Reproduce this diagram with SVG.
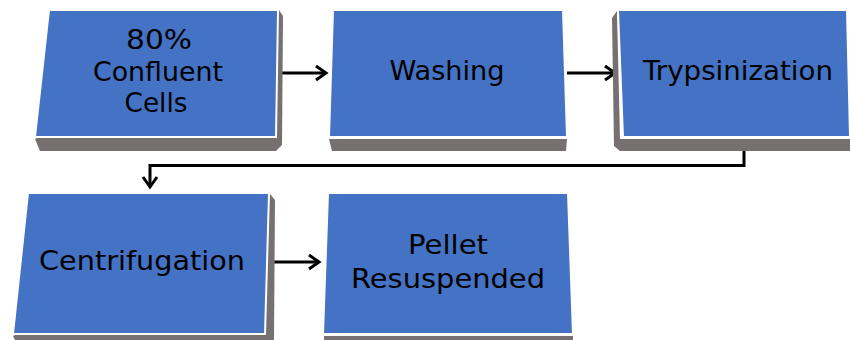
<svg xmlns="http://www.w3.org/2000/svg" width="850" height="340" viewBox="0 0 850 340">
<defs>
<style>
.face{fill:#4472C4;stroke:#ffffff;stroke-width:2;stroke-linejoin:miter}
.side{fill:#767170}
.lbl{font-family:"DejaVu Sans","Liberation Sans",sans-serif;font-size:27px;fill:#000;text-anchor:middle}
.conn{fill:none;stroke:#000;stroke-width:3}
</style>
<marker id="arr" markerUnits="userSpaceOnUse" markerWidth="16" markerHeight="18" refX="12" refY="9" orient="auto">
<path d="M2,2 L12,9 L2,16" fill="none" stroke="#000" stroke-width="3"/>
</marker>
</defs>
<rect width="850" height="340" fill="#fff"/>
<g id="connectors">
<line class="conn" x1="281" y1="73" x2="326" y2="73" marker-end="url(#arr)"/>
<line class="conn" x1="567" y1="73" x2="615" y2="73" marker-end="url(#arr)"/>
<polyline class="conn" points="744,140 744,165.5 150,165.5 150,187" marker-end="url(#arr)"/>
<line class="conn" x1="270" y1="262" x2="319" y2="262" marker-end="url(#arr)"/>
</g>
<g id="n1">
<polygon class="side" points="279,10 283,16 282,145 276,151 40,151 35,139"/>
<polygon class="face" points="49,10 278,10 276,137 35,137"/>
<text class="lbl" x="159" y="49" textLength="66" lengthAdjust="spacingAndGlyphs">80%</text>
<text class="lbl" x="158" y="81" textLength="130" lengthAdjust="spacingAndGlyphs">Confluent</text>
<text class="lbl" x="156" y="112" textLength="63" lengthAdjust="spacingAndGlyphs">Cells</text>
</g>
<g id="n2">
<polygon class="side" points="329,139 567,139 566,151 332,151"/>
<polygon class="face" points="333,10 563,10 567,137 329,137"/>
<text class="lbl" x="447" y="80" textLength="115" lengthAdjust="spacingAndGlyphs">Washing</text>
</g>
<g id="n3">
<polygon class="side" points="617,11 612,18 614,146 620,151 850,151 850,139 620,139"/>
<polygon class="face" points="618,10 847,10 850,137 623,137"/>
<text class="lbl" x="738" y="80" textLength="190" lengthAdjust="spacingAndGlyphs">Trypsinization</text>
</g>
<g id="n4">
<polygon class="side" points="270,194 275,200 274,340 15,340 13,336"/>
<polygon class="face" points="28,193 269,193 265,334 13,334"/>
<text class="lbl" x="142" y="270" textLength="206" lengthAdjust="spacingAndGlyphs">Centrifugation</text>
</g>
<g id="n5">
<polygon class="side" points="324,336 573,336 573,340 324,340"/>
<polygon class="face" points="328,193 568,193 573,334 323,334"/>
<text class="lbl" x="448" y="254" textLength="80" lengthAdjust="spacingAndGlyphs">Pellet</text>
<text class="lbl" x="448" y="288" textLength="194" lengthAdjust="spacingAndGlyphs">Resuspended</text>
</g>
</svg>
